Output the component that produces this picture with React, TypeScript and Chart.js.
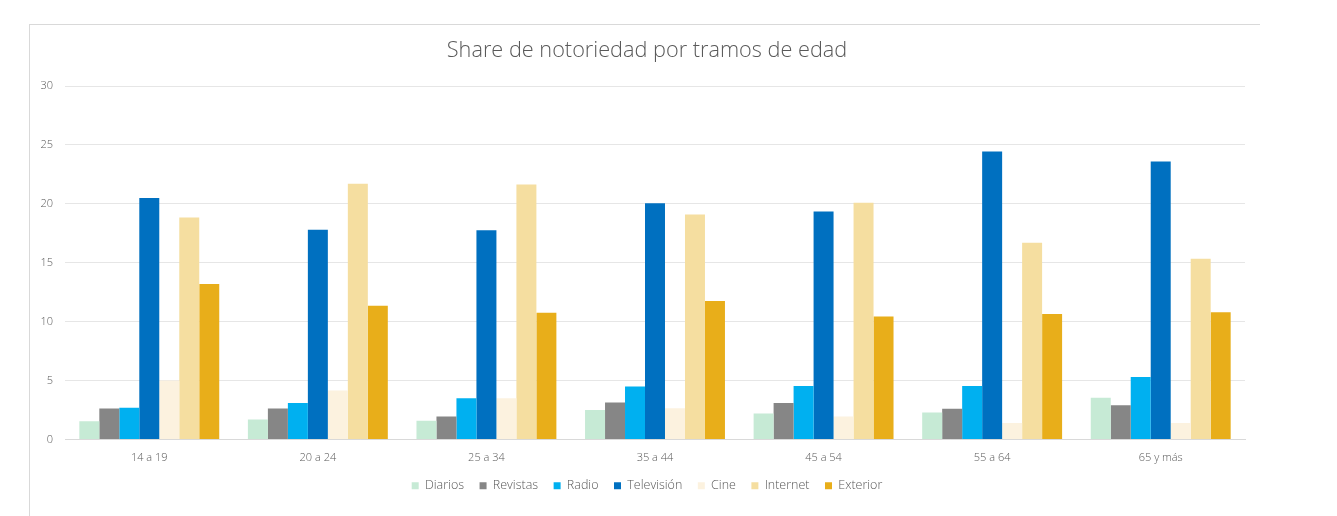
import { useEffect, useRef } from 'react';
import Chart from 'chart.js/auto';

// Tramos de edad
const categories = ['14 a 19', '20 a 24', '25 a 34', '35 a 44', '45 a 54', '55 a 64', '65 y más'];

// Share de notoriedad por medio
const diarios = [1.55, 1.7, 1.6, 2.5, 2.2, 2.3, 3.55];
const revistas = [2.63, 2.63, 1.95, 3.15, 3.1, 2.6, 2.9];
const radio = [2.7, 3.1, 3.5, 4.5, 4.55, 4.55, 5.3];
const television = [20.5, 17.8, 17.75, 20.05, 19.35, 24.45, 23.6];
const cine = [5.0, 4.15, 3.5, 2.65, 1.95, 1.4, 1.4];
const internet = [18.85, 21.7, 21.65, 19.1, 20.1, 16.7, 15.35];
const exterior = [13.2, 11.35, 10.75, 11.75, 10.45, 10.65, 10.8];

const yTicks = [0, 5, 10, 15, 20, 25, 30];

const textColor = '#595959';
const fontFamily = '"Open Sans", "Noto Sans", sans-serif';

export default function App() {
  const canvasRef = useRef<HTMLCanvasElement>(null);

  useEffect(() => {
    document.body.style.margin = '0';
    if (!canvasRef.current) return;

    const series = [
      { label: 'Diarios', data: diarios, color: '#C6EAD5' },
      { label: 'Revistas', data: revistas, color: '#868686' },
      { label: 'Radio', data: radio, color: '#00B0F0' },
      { label: 'Televisión', data: television, color: '#0070C0' },
      { label: 'Cine', data: cine, color: '#FCF2DF' },
      { label: 'Internet', data: internet, color: '#F5DEA0' },
      { label: 'Exterior', data: exterior, color: '#E8AE1A' },
    ];

    const chart = new Chart(canvasRef.current, {
      type: 'bar',
      data: {
        labels: categories,
        datasets: series.map(s => ({
          label: s.label,
          data: s.data,
          backgroundColor: s.color,
          borderWidth: 0,
          categoryPercentage: 0.83,
          barPercentage: 1,
        })),
      },
      options: {
        animation: false,
        responsive: true,
        maintainAspectRatio: false,
        layout: { padding: { left: 0, right: 0, top: 10, bottom: 14 } },
        plugins: {
          title: {
            display: true,
            text: 'Share de notoriedad por tramos de edad',
            color: textColor,
            font: { family: fontFamily, size: 21.7, weight: '300' },
            padding: { top: 3, bottom: 22 },
          },
          legend: {
            position: 'bottom',
            labels: {
              color: textColor,
              font: { family: fontFamily, size: 12.5, weight: '300' },
              boxWidth: 7,
              boxHeight: 7,
              padding: 15.5,
            },
          },
          tooltip: { enabled: false },
        },
        scales: {
          x: {
            grid: { display: false },
            border: { display: true, color: '#D9D9D9' },
            ticks: { color: textColor, font: { family: fontFamily, size: 11, weight: '300' }, padding: 4 },
            afterFit: (scale) => { scale.height = 24.5; },
          },
          y: {
            min: 0,
            max: 30,
            afterBuildTicks: (scale) => { scale.ticks = yTicks.map(v => ({ value: v })); },
            grid: { color: '#E6E6E6', drawTicks: false },
            border: { display: false },
            ticks: { color: textColor, font: { family: fontFamily, size: 11, weight: '300' }, padding: 12 },
            afterFit: (scale) => { scale.width = 35; },
          },
          // espacio vacío a la derecha del área de trazado
          yRight: {
            type: 'linear',
            position: 'right',
            grid: { display: false },
            border: { display: false },
            ticks: { display: false },
            afterFit: (scale) => { scale.width = 19; },
          },
        },
      },
    });

    return () => chart.destroy();
  }, []);

  return (
    <div style={{ position: 'relative', width: 1337, height: 516, background: '#fff', overflow: 'hidden' }}>
      <div
        style={{
          position: 'absolute',
          left: 29,
          top: 24,
          width: 1231,
          height: 492,
          borderTop: '1px solid #D9D9D9',
          borderLeft: '1px solid #D9D9D9',
          boxSizing: 'border-box',
        }}
      />
      <div style={{ position: 'absolute', left: 30, top: 25, width: 1234, height: 491 }}>
        <canvas ref={canvasRef} />
      </div>
    </div>
  );
}
